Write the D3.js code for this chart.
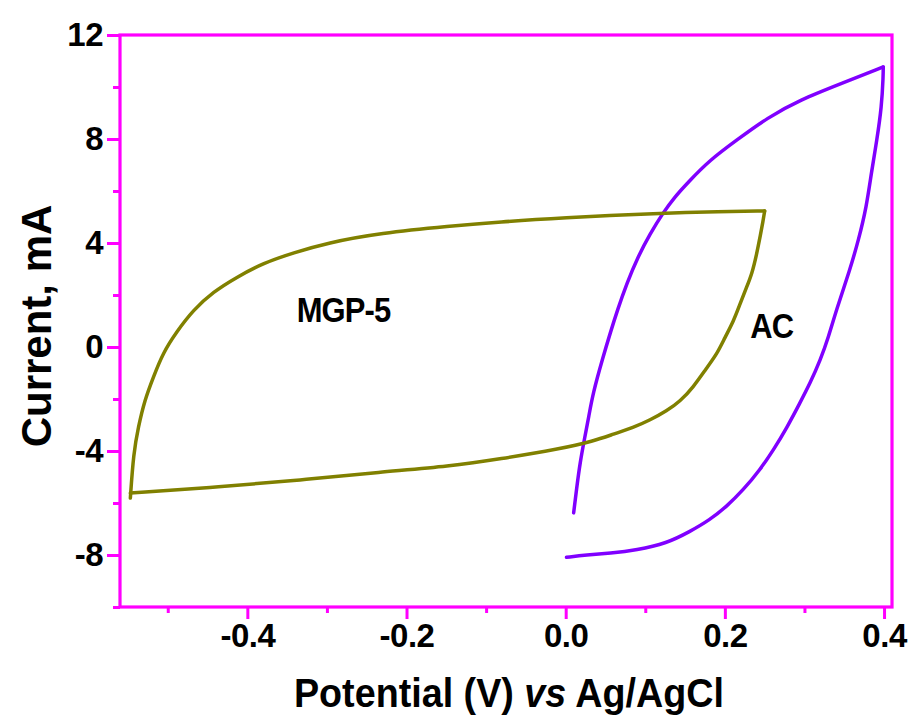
<!doctype html>
<meta charset="utf-8">
<body style="margin:0;background:#fff">

<div id="chart"></div>

<script src="https://d3js.org/d3.v7.min.js"></script>
<script>

// MGP-5 loop (V, mA), forward sweep then reverse sweep; turn = index of the vertex
const mgpPotential = [-0.547, -0.543, -0.537, -0.529, -0.518, -0.506, -0.489, -0.468, -0.443, -0.413, -0.380, -0.342, -0.300, -0.233, -0.145, -0.083, -0.007, 0.118, 0.194, 0.250,
  0.248, 0.244, 0.240, 0.234, 0.227, 0.219, 0.211, 0.200, 0.190, 0.177, 0.160, 0.144, 0.127, 0.106, 0.085, 0.060, 0.035, -0.007, -0.083, -0.145, -0.233, -0.334, -0.434, -0.547]
const mgpCurrent = [-5.81, -4.08, -3.08, -2.04, -1.15, -0.23, 0.58, 1.42, 2.12, 2.69, 3.23, 3.62, 4.00, 4.38, 4.65, 4.81, 4.96, 5.15, 5.21, 5.23,
  4.85, 4.20, 3.58, 2.81, 2.28, 1.65, 1.00, 0.36, -0.27, -0.81, -1.56, -2.08, -2.46, -2.81, -3.10, -3.35, -3.62, -3.92, -4.31, -4.58, -4.81, -5.12, -5.38, -5.62]
const mgpTurn = 19

// AC loop
const acPotential = [0.010, 0.014, 0.018, 0.024, 0.029, 0.034, 0.047, 0.056, 0.065, 0.077, 0.090, 0.106, 0.122, 0.137, 0.153, 0.181, 0.215, 0.253, 0.294, 0.348, 0.399,
  0.399, 0.397, 0.391, 0.384, 0.378, 0.368, 0.357, 0.340, 0.330, 0.320, 0.307, 0.294, 0.278, 0.261, 0.244, 0.223, 0.202, 0.181, 0.156, 0.127, 0.089, 0.056, 0.026, 0.001]
const acCurrent = [-6.38, -5.38, -4.46, -3.46, -2.69, -1.81, -0.38, 0.54, 1.42, 2.46, 3.42, 4.35, 5.15, 5.77, 6.31, 7.19, 7.96, 8.81, 9.50, 10.15, 10.77,
  10.46, 9.24, 7.96, 6.69, 5.40, 4.12, 2.96, 1.42, 0.36, -0.50, -1.40, -2.17, -3.10, -3.96, -4.73, -5.50, -6.14, -6.65, -7.10, -7.55, -7.81, -7.93, -8.00, -8.09]
const acTurn = 20

const xTicks = [-0.4, -0.2, 0.0, 0.2, 0.4]
const xMinor = [-0.5, -0.3, -0.1, 0.1, 0.3]
const yTicks = [-8, -4, 0, 4, 8, 12]
const yMinor = [-10, -6, -2, 2, 6, 10]

const labels = [
  { text: "MGP-5", x: -0.338, y: 0.96 },
  { text: "AC", x: 0.232, y: 0.35 }
]

const width = 913
const height = 725
const plot = { left: 120, right: 892, top: 35, bottom: 607 }

const svg = d3.select("#chart").append("svg")
  .attr("width", width)
  .attr("height", height)
  .style("font-family", "'Liberation Sans', Arial, sans-serif")
  .style("font-weight", "bold")

const x = d3.scaleLinear().domain([-0.56, 0.41]).range([plot.left, plot.right])
const y = d3.scaleLinear().domain([-10, 12]).range([plot.bottom, plot.top])

const magenta = "#ff00ff"
const hyphen = f => (d => f(d).replace("\u2212", "-"))

// minor ticks
svg.append("g")
  .attr("transform", "translate(0," + plot.bottom + ")")
  .call(d3.axisBottom(x).tickValues(xMinor).tickSize(6).tickFormat(""))
svg.append("g")
  .attr("transform", "translate(" + plot.left + ",0)")
  .call(d3.axisLeft(y).tickValues(yMinor).tickSize(7).tickFormat(""))

// major ticks
svg.append("g")
  .attr("transform", "translate(0," + plot.bottom + ")")
  .call(d3.axisBottom(x).tickValues(xTicks).tickSize(12).tickPadding(5).tickFormat(hyphen(d3.format(".1f"))))
svg.append("g")
  .attr("transform", "translate(" + plot.left + ",0)")
  .call(d3.axisLeft(y).tickValues(yTicks).tickSize(13).tickPadding(4).tickFormat(hyphen(d3.format("d"))))

svg.selectAll(".domain").remove()
svg.selectAll(".tick line").attr("stroke", magenta).attr("stroke-width", 3)
svg.selectAll(".tick text")
  .attr("fill", "#000")
  .style("font-size", "33px")
  .style("font-family", "'Liberation Sans', Arial, sans-serif")
  .style("font-weight", "bold")
  .style("letter-spacing", "-0.5px")

// frame
svg.append("rect")
  .attr("x", plot.left)
  .attr("y", plot.top)
  .attr("width", plot.right - plot.left)
  .attr("height", plot.bottom - plot.top)
  .attr("fill", "none")
  .attr("stroke", magenta)
  .attr("stroke-width", 3.2)

const line = d3.line()
  .x(d => x(d[0]))
  .y(d => y(d[1]))
  .curve(d3.curveBasis)

// each loop drawn as two sweeps so the vertex stays sharp
function drawLoop(pot, cur, turn, color) {
  const pts = d3.zip(pot, cur)
  const g = svg.append("g")
    .attr("fill", "none")
    .attr("stroke", color)
    .attr("stroke-width", 3.5)
    .attr("stroke-linejoin", "round")
    .attr("stroke-linecap", "round")
  g.append("path").attr("d", line(pts.slice(0, turn + 1)))
  g.append("path").attr("d", line(pts.slice(turn)))
}

drawLoop(acPotential, acCurrent, acTurn, "#8000ff")
drawLoop(mgpPotential, mgpCurrent, mgpTurn, "#808000")

// curve labels
svg.selectAll(".lbl")
  .data(labels)
  .enter()
  .append("text")
  .attr("transform", d => "translate(" + x(d.x) + "," + y(d.y) + ") scale(0.86,1)")
  .style("font-size", "36px")
  .style("letter-spacing", "-1px")
  .text(d => d.text)

// axis titles
const xt = svg.append("text")
  .attr("transform", "translate(509,707) scale(0.92,1)")
  .attr("text-anchor", "middle")
  .style("font-size", "41px")
xt.append("tspan").text("Potential (V) ")
xt.append("tspan").style("font-style", "italic").text("vs")
xt.append("tspan").text(" Ag/AgCl")

svg.append("text")
  .attr("transform", "translate(51,326) rotate(-90)")
  .attr("text-anchor", "middle")
  .style("font-size", "42px")
  .text("Current, mA")

</script>
</body>
